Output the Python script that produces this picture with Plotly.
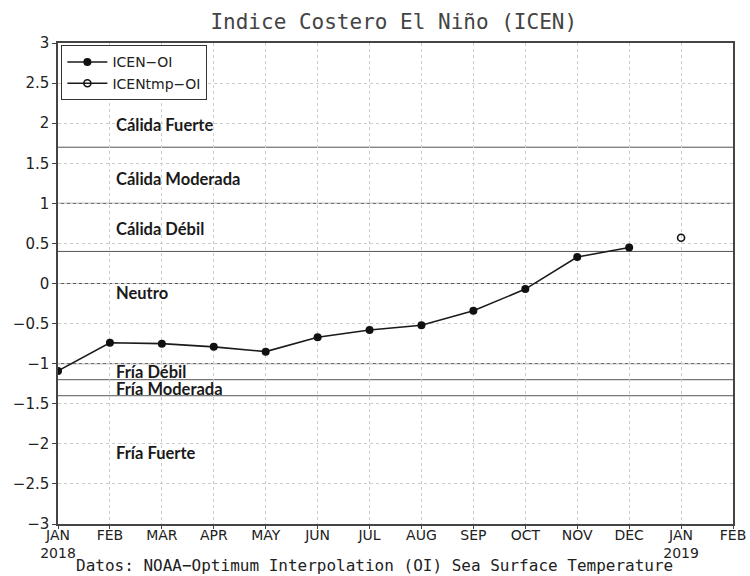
import plotly.graph_objects as go

months = ["JAN<br>2018", "FEB", "MAR", "APR", "MAY", "JUN", "JUL", "AUG", "SEP", "OCT", "NOV", "DEC", "JAN<br>2019", "FEB"]
icen_x = [0, 1, 2, 3, 4, 5, 6, 7, 8, 9, 10, 11]
icen_y = [-1.09, -0.74, -0.75, -0.79, -0.85, -0.67, -0.58, -0.52, -0.34, -0.07, 0.33, 0.45]
tmp_x = [12]
tmp_y = [0.57]
thresholds = [1.7, 1.0, 0.4, 0.0, -1.0, -1.2, -1.4]
category_labels = ["Cálida Fuerte", "Cálida Moderada", "Cálida Débil", "Neutro", "Fría Débil", "Fría Moderada", "Fría Fuerte"]
category_y = [1.98, 1.30, 0.68, -0.12, -1.10, -1.32, -2.11]
label_x = 1.08

fig = go.Figure()
fig.add_trace(go.Scatter(x=icen_x, y=icen_y, mode="lines+markers", name="ICEN−OI",
                         line=dict(color="#1a1a1a", width=1.6),
                         marker=dict(symbol="circle", size=8, color="#111")))
fig.add_trace(go.Scatter(x=tmp_x, y=tmp_y, mode="lines+markers", name="ICENtmp−OI",
                         line=dict(color="#1a1a1a", width=1.6),
                         marker=dict(symbol="circle-open", size=7, color="#111", line=dict(width=1.6))))

for t in thresholds:
    fig.add_shape(type="line", xref="paper", x0=0, x1=1, yref="y", y0=t, y1=t,
                  line=dict(color="#555", width=1), layer="below")

for lab, yy in zip(category_labels, category_y):
    fig.add_annotation(x=label_x, y=yy, text="<b>" + lab + "</b>", showarrow=False,
                       xanchor="left", yanchor="middle",
                       font=dict(family="Lato", size=16.5, color="#1a1a1a"))

fig.update_layout(
    template="none",
    width=750, height=576,
    margin=dict(l=58, r=17, t=43, b=52),
    paper_bgcolor="white", plot_bgcolor="white",
    title=dict(text="Indice Costero El Niño (ICEN)", x=0.525, xanchor="center", y=0.962, yanchor="middle",
               font=dict(family="DejaVu Sans Mono", size=21, color="#444")),
    showlegend=True,
    legend=dict(x=0.005, y=0.995, xanchor="left", yanchor="top", bgcolor="white",
                bordercolor="#333", borderwidth=1,
                font=dict(family="DejaVu Sans", size=14, color="#222"),
                tracegroupgap=0, itemwidth=40),
    font=dict(family="DejaVu Sans", color="#222"),
)
fig.update_xaxes(range=[0, 13], tickmode="array", tickvals=list(range(14)), ticktext=months,
                 automargin=False, ticklabelstandoff=-6,
                 showgrid=True, gridcolor="#ccc", griddash="dot", gridwidth=1,
                 showline=True, linecolor="#444", linewidth=1.5, mirror=True,
                 ticks="outside", ticklen=3, tickcolor="#444",
                 tickfont=dict(family="DejaVu Sans", size=14, color="#222"), zeroline=False)
fig.update_yaxes(range=[-3, 3], tickmode="array", tickvals=[-3, -2.5, -2, -1.5, -1, -0.5, 0, 0.5, 1, 1.5, 2, 2.5, 3],
                 ticktext=["−3", "−2.5", "−2", "−1.5", "−1", "−0.5", "0", "0.5", "1", "1.5", "2", "2.5", "3"],
                 automargin=False,
                 showgrid=True, gridcolor="#ccc", griddash="dot", gridwidth=1,
                 showline=True, linecolor="#444", linewidth=1.5, mirror=True,
                 ticks="outside", ticklen=4, tickcolor="#444",
                 tickfont=dict(family="DejaVu Sans", size=15, color="#222"), zeroline=False)

fig.add_annotation(text="Datos: NOAA−Optimum Interpolation (OI) Sea Surface Temperature",
                   xref="paper", yref="paper", x=0.469, y=-0.087, xanchor="center", yanchor="middle",
                   showarrow=False, font=dict(family="DejaVu Sans Mono", size=16, color="#222"))

fig.write_html("out.html", config={"displayModeBar": False},
               post_script="document.body.style.margin='0';document.body.style.overflow='hidden';")
